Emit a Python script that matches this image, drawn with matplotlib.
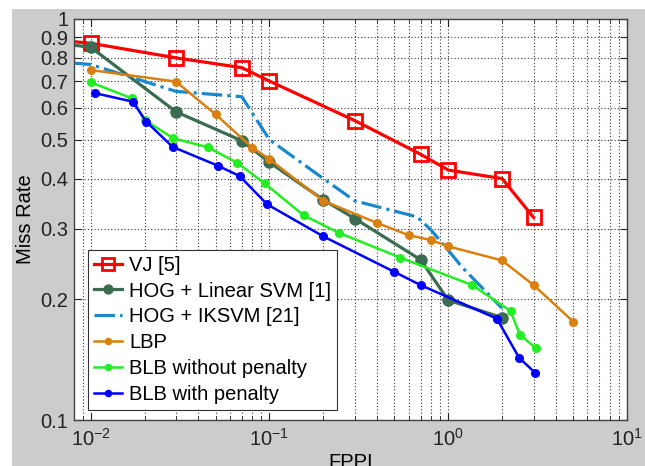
import matplotlib
matplotlib.use("Agg")
import matplotlib.pyplot as plt
from matplotlib.patches import Rectangle
from matplotlib.ticker import FixedLocator, FixedFormatter, LogLocator, NullFormatter

plt.rcParams['font.family'] = ['Liberation Sans', 'DejaVu Sans']
plt.rcParams['mathtext.fontset'] = 'custom'
plt.rcParams['mathtext.rm'] = 'Liberation Sans'
plt.rcParams['mathtext.default'] = 'regular'

# 曲线数据 (FPPI, miss rate)
vj_fppi = [0.005, 0.01, 0.03, 0.07, 0.1, 0.3, 0.7, 1.0, 2.0, 3.0]
vj_mr = [0.895, 0.87, 0.80, 0.756, 0.70, 0.558, 0.46, 0.42, 0.40, 0.32]

linsvm_fppi = [0.005, 0.01, 0.03, 0.07, 0.1, 0.2, 0.3, 0.7, 1.0, 2.0]
linsvm_mr = [0.884, 0.85, 0.587, 0.497, 0.439, 0.354, 0.318, 0.251, 0.199, 0.18]

iksvm_fppi = [0.005, 0.01, 0.03, 0.07, 0.1, 0.2, 0.3, 0.67, 0.8, 1.0, 1.2, 2.0]
iksvm_mr = [0.79, 0.77, 0.66, 0.64, 0.50, 0.40, 0.352, 0.321, 0.298, 0.265, 0.24, 0.19]

lbp_fppi = [0.01, 0.03, 0.05, 0.08, 0.1, 0.2, 0.4, 0.6, 0.8, 1.0, 2.0, 3.0, 5.0]
lbp_mr = [0.746, 0.698, 0.578, 0.478, 0.447, 0.352, 0.31, 0.289, 0.281, 0.271, 0.25, 0.217, 0.176]

blb_np_fppi = [0.01, 0.017, 0.02, 0.029, 0.045, 0.066, 0.094, 0.155, 0.244, 0.54, 1.36, 2.23, 2.52, 3.1]
blb_np_mr = [0.695, 0.634, 0.56, 0.504, 0.479, 0.438, 0.389, 0.324, 0.293, 0.254, 0.217, 0.187, 0.163, 0.151]

blb_p_fppi = [0.0106, 0.0172, 0.0204, 0.0287, 0.0512, 0.068, 0.097, 0.2, 0.5, 0.7, 1.87, 2.49, 3.07]
blb_p_mr = [0.653, 0.622, 0.555, 0.48, 0.431, 0.406, 0.345, 0.287, 0.234, 0.217, 0.179, 0.143, 0.131]

labels = ['VJ [5]', 'HOG + Linear SVM [1]', 'HOG + IKSVM [21]', 'LBP',
          'BLB without penalty', 'BLB with penalty']

y_ticks = [0.1, 0.2, 0.3, 0.4, 0.5, 0.6, 0.7, 0.8, 0.9, 1.0]
y_tick_labels = ['0.1', '0.2', '0.3', '0.4', '0.5', '0.6', '0.7', '0.8', '0.9', '1']

fig = plt.figure(figsize=(6.45, 4.66), dpi=100)
fig.patch.set_facecolor('white')
# MATLAB 风格的灰色背景
fig.patches.append(Rectangle((12 / 645, 0), 1, 1 - 9 / 466, transform=fig.transFigure,
                             facecolor='#cccccc', edgecolor='none', zorder=-10))

ax = fig.add_axes([74 / 645, 1 - 420 / 466, 553 / 645, 401 / 466])
ax.set_zorder(5)
ax.set_facecolor('white')

ax.plot(vj_fppi, vj_mr, '-', color='#ff0000', lw=2.3, marker='s', ms=10,
        mfc='none', mew=2, label=labels[0])
ax.plot(linsvm_fppi, linsvm_mr, '-', color='#3b6b50', lw=2.3, marker='o', ms=8,
        label=labels[1])
ax.plot(iksvm_fppi, iksvm_mr, '-.', color='#1a88cc', lw=2.3, label=labels[2])
ax.plot(lbp_fppi, lbp_mr, '-', color='#d98010', lw=1.8, marker='o', ms=5.5,
        label=labels[3])
ax.plot(blb_np_fppi, blb_np_mr, '-', color='#22ee22', lw=1.8, marker='o', ms=5.5,
        label=labels[4])
ax.plot(blb_p_fppi, blb_p_mr, '-', color='#0000ff', lw=1.8, marker='o', ms=5.5,
        label=labels[5])

ax.set_xscale('log')
ax.set_yscale('log')
ax.set_xlim(0.00806, 10)
ax.set_ylim(0.1, 1.0)

ax.yaxis.set_major_locator(FixedLocator(y_ticks))
ax.yaxis.set_major_formatter(FixedFormatter(y_tick_labels))
ax.yaxis.set_minor_locator(FixedLocator([]))
ax.xaxis.set_major_locator(LogLocator(base=10, numticks=10))
ax.xaxis.set_minor_locator(LogLocator(base=10, subs=range(2, 10), numticks=20))
ax.xaxis.set_minor_formatter(NullFormatter())

ax.tick_params(which='both', direction='in', top=True, right=True,
               labelsize=14.5, colors='#222222')
ax.tick_params(which='major', length=5, pad=4)
ax.tick_params(which='minor', length=3)
ax.tick_params(axis='x', which='major', pad=6)

ax.grid(True, which='major', linestyle=(0, (1, 2)), color='#333333', lw=0.8)
ax.grid(True, which='minor', axis='x', linestyle=(0, (1, 2)), color='#333333', lw=0.8)
ax.set_axisbelow(True)
for s in ax.spines.values():
    s.set_color('#444444')
    s.set_linewidth(1.0)

ax.set_xlabel('FPPI', fontsize=14.5, labelpad=2)
ax.set_ylabel('Miss Rate', fontsize=14.5, labelpad=4)

leg = ax.legend(loc='lower left', bbox_to_anchor=(0.025, 0.025), borderaxespad=0,
                fontsize=14.5, fancybox=False, edgecolor='#333333', framealpha=1,
                handlelength=1.4, handletextpad=0.35, labelspacing=0.34,
                borderpad=0.3, markerscale=0.8)
leg.get_frame().set_linewidth(0.8)

fig.savefig('out.png', dpi=100, facecolor=fig.get_facecolor())
